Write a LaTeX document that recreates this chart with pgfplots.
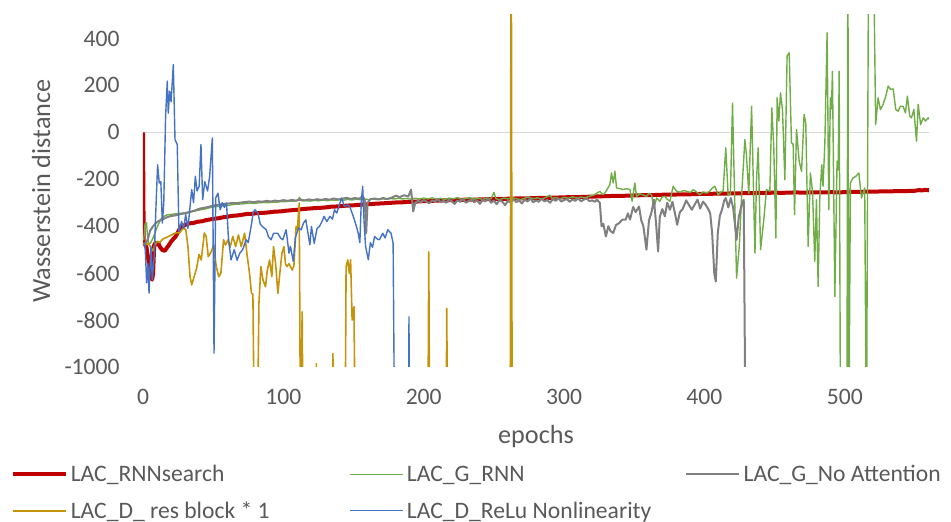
\documentclass[border=0pt]{standalone}
\usepackage{fontspec}
\setmainfont{Carlito}
\usepackage{pgfplots}
\pgfplotsset{compat=1.18}
\definecolor{cRed}{RGB}{192,0,0}
\definecolor{cGreen}{RGB}{112,173,71}
\definecolor{cGray}{RGB}{128,128,128}
\definecolor{cGold}{RGB}{196,148,10}
\definecolor{cBlue}{RGB}{68,114,196}
\definecolor{labelgray}{RGB}{89,89,89}
\definecolor{zerogray}{RGB}{217,217,217}
\begin{document}
\begin{tikzpicture}
\begin{axis}[
  scale only axis, width=393pt, height=176pt,
  xmin=0, xmax=560, ymin=-1000, ymax=500,
  xtick={0,100,200,300,400,500},
  ytick={-1000,-800,-600,-400,-200,0,200,400},
  axis line style={draw=none}, major tick length=0pt,
  /pgf/number format/assume math mode=true,
  /pgf/number format/1000 sep={},
  tick label style={font=\fontsize{11.8}{14}\selectfont, color=labelgray},
  yticklabel style={anchor=east, inner sep=0pt, xshift=-11.5pt},
  xticklabel style={anchor=base, inner sep=0pt, yshift=-19pt},
  xlabel={epochs}, ylabel={Wasserstein distance},
  every axis x label/.style={at={(axis description cs:0.5,0)}, anchor=base,
    yshift=-38.5pt, font=\fontsize{13.1}{15}\selectfont, color=labelgray},
  every axis y label/.style={at={(axis description cs:-0.1183,0.5)}, rotate=90,
    anchor=base, font=\fontsize{13.1}{15}\selectfont, color=labelgray},
  legend columns=3,
  legend style={draw=none, fill=none, at={(axis description cs:0,0)},
    anchor=north west, xshift=-66.2pt, yshift=-49.85pt,
    inner sep=0pt, outer sep=0pt, row sep=10.65pt, column sep=0pt,
    font=\fontsize{11.8}{14}\selectfont, text=labelgray,
    nodes={inner sep=0pt, outer sep=0pt, text height=7.6pt, text depth=0pt},
    /tikz/every odd column/.append style={column sep=1.6pt}},
  legend cell align=left,
  legend image code/.code={\draw[#1] (0pt,0pt) -- (26.5pt,0pt);},
  every axis plot/.append style={line join=round},
]
\addplot[zerogray, line width=0.75pt, forget plot] coordinates {(0,0) (560,0)};

% LAC_RNNsearch
\addplot[cRed, line width=2pt] coordinates {
(0,0) (0.5,-470) (1.5,-478) (2.5,-490) (3.5,-530) (4.5,-575) (5.5,-610) (6.5,-628)
(7.2,-600) (8,-480) (9,-470) (10,-478) (11,-472) (12,-488) (13,-496) (14,-502)
(15.5,-505) (17,-492) (18.5,-480) (20,-466) (21.5,-455) (23,-446) (24.5,-430)
(26,-412) (27.5,-404) (29,-398) (31,-392) (33,-388) (36,-386) (39,-381) (42,-379)
(45,-374) (48,-371) (51,-368) (54,-366) (57,-362) (60,-360) (63,-356) (66,-355)
(70,-352) (74,-348) (78,-347) (82,-344) (86,-343) (90,-341) (94,-338) (98,-337)
(102,-334) (106,-332) (110,-330) (114,-327) (118,-325) (122,-323) (126,-322)
(130,-320) (134,-317) (138,-316) (142,-314) (146,-312) (150,-311) (154,-309)
(158,-307) (162,-306) (166,-304) (170,-303) (175,-301) (180,-299) (185,-298)
(190,-296) (195,-295) (200,-293) (205,-292) (210,-291) (215,-290) (220,-289)
(225,-288) (230,-287) (235,-287) (240,-286) (245,-285) (250,-284) (255,-284)
(260,-283) (265,-282) (270,-281) (275,-281) (280,-280) (285,-279) (290,-279)
(295,-278) (300,-277) (305,-276) (310,-276) (315,-275) (320,-274) (325,-273)
(330,-272) (335,-271) (340,-271) (345,-270) (350,-269) (355,-268) (360,-268)
(365,-267) (370,-266) (375,-266) (380,-265) (385,-264) (390,-264) (395,-263)
(400,-262) (405,-262) (410,-261) (415,-261) (420,-260) (425,-260) (430,-259)
(435,-259) (440,-258) (445,-258) (450,-257) (455,-258) (460,-257) (465,-256)
(470,-257) (475,-256) (480,-256) (485,-256) (490,-255) (495,-256) (500,-255)
(505,-254) (510,-254) (515,-253) (520,-253) (525,-252) (530,-252) (535,-251)
(540,-251) (545,-250) (550,-249) (553,-246) (555,-248) (557,-245) (560,-247)
};
\addlegendentry{\makebox[139.25pt][l]{LAC\_RNNsearch}}

% LAC_G_RNN
\addplot[cGreen, line width=0.7pt] coordinates {
(0.5,-460) (1.5,-390) (2.5,-385) (3.2,-440) (4,-478) (5.5,-470) (7,-452) (8.5,-430)
(10,-405) (11.5,-385) (13,-368) (15,-358) (17,-352) (20,-350) (23,-347) (26,-346)
(29,-343) (32,-341) (35,-338) (38,-334) (41,-330) (44,-327) (47,-322) (50,-318)
(53,-316) (56,-314) (59,-312) (62,-310) (65,-307) (68,-306) (71,-305) (74,-303)
(77,-302) (80,-303) (83,-300) (86,-299) (89,-300) (92,-297) (95,-298) (98,-295)
(101,-296) (104,-293) (107,-294) (110,-290) (111.5,-278) (113,-292) (116,-291)
(119,-293) (122,-290) (125,-292) (128,-289) (131,-291) (134,-288) (137,-290)
(140,-287) (143,-289) (146,-286) (149,-288) (152,-285) (155,-287) (158,-284)
(161,-287) (164,-284) (167,-286) (170,-283) (173,-285) (176,-282) (179,-284)
(182,-281) (185,-284) (188,-282) (191,-285) (194,-281) (197,-284) (200,-280)
(203,-284) (206,-279) (209,-285) (212,-281) (215,-287) (218,-280) (221,-284)
(224,-278) (227,-286) (230,-282) (233,-279) (236,-285) (239,-281) (242,-286)
(245,-280) (248,-283) (250,-256) (251.5,-283) (254,-287) (257,-280) (260,-284)
(263,-279) (266,-283) (269,-287) (272,-280) (275,-276) (278,-283) (281,-279)
(284,-285) (287,-277) (290,-268) (291.5,-282) (294,-278) (297,-284) (300,-277)
(303,-281) (306,-275) (309,-280) (312,-276) (315,-279) (318,-272) (321,-268)
(323.4,-259) (325.5,-252) (327.9,-266) (330,-250) (332.6,-223) (333.8,-173)
(335,-216) (336.2,-166) (337.4,-237) (340,-240) (342.1,-244) (344.5,-240)
(346.9,-244) (348.5,-294) (350.4,-216) (351.6,-273) (354,-262) (356,-266)
(358.7,-273) (360.5,-260) (362.3,-266) (364,-323) (365.9,-280) (368.2,-294)
(370,-275) (371.8,-273) (373.5,-285) (375.4,-294) (377.7,-230) (380.1,-251)
(383,-255) (385,-248) (387.2,-251) (390,-256) (392,-244) (394.5,-255) (396.7,-266)
(399,-254) (401.4,-259) (403.5,-252) (405.7,-237) (407.4,-230) (409.8,-266)
(411.5,-255) (413.3,-251) (415.2,-66) (416.9,-270) (418.5,-262) (420,125)
(421.5,-270) (422.9,-621) (424.9,-480) (426.5,-270) (428.8,-31) (429.9,-95)
(431.6,-260) (433.6,111) (436,-515) (437.1,-200) (438.3,-66) (440,-500)
(442.3,-372) (444.2,-244) (446.6,-251) (448,104) (449.4,-60) (450.9,-451)
(451.8,147) (453,48) (454.2,168) (455.6,97) (457.3,-202) (458.9,325) (460.4,339)
(462,-45) (463.2,-50) (464.2,-351) (465.6,12) (467.5,-123) (469.2,-166) (471,76)
(472.2,40) (473.9,-486) (475.5,-173) (477,-251) (478.6,-550) (479.8,-287)
(481,-657) (482.2,-280) (483.6,-138) (484.5,-230) (485.8,-45) (487.4,424)
(488.6,-330) (489.7,147) (490.5,100) (491.2,260) (492.9,-700) (494.5,-123)
(495.3,-160) (496,260) (497,-1400) (501.5,-1400) (502.2,900) (502.8,-1400)
(504,-216) (505.9,-194) (507.8,-188) (510,-173) (511.9,-280) (514.2,-237)
(515.4,-1400) (517,900) (520.2,900) (522,33) (523.7,147) (525.4,97) (527.3,119)
(529.2,154) (530.9,197) (532.6,183) (534.5,185) (536.3,97) (538,90) (539.6,111)
(541.5,111) (543.2,83) (544.6,154) (546.3,69) (547.5,62) (549.2,97) (551.1,-38)
(552.3,119) (554,33) (555.9,62) (557.5,48) (559.4,62) (560,55)
};
\addlegendentry{\makebox[139.25pt][l]{LAC\_G\_RNN}}

% LAC_G_No Attention
\addplot[cGray, line width=1pt] coordinates {
(0.5,-480) (2,-470) (3.5,-455) (5,-420) (7,-402) (9,-388) (11,-378) (13,-373)
(15,-368) (17,-362) (19,-358) (22,-355) (25,-351) (28,-347) (31,-344) (34,-338)
(37,-333) (40,-326) (43,-322) (46,-319) (49,-314) (52,-310) (55,-307) (58,-305)
(61,-303) (64,-301) (67,-302) (70,-299) (73,-297) (76,-295) (79,-298) (82,-294)
(85,-296) (88,-292) (91,-295) (94,-291) (97,-293) (100,-289) (103,-292) (106,-288)
(109,-291) (112,-287) (115,-290) (118,-286) (121,-289) (124,-285) (127,-288)
(130,-284) (133,-287) (136,-282) (139,-286) (142,-283) (145,-279) (148,-284)
(151,-280) (154,-283) (156.6,-272) (158,-290) (159,-430) (160,-300) (162,-285)
(165,-282) (168,-286) (171,-280) (174,-284) (177,-279) (180,-270) (183,-276)
(186,-268) (189,-274) (191,-244) (192.5,-337) (194,-300) (196,-292) (198,-298)
(200,-288) (202,-296) (204,-302) (206,-290) (208,-295) (210,-285) (212,-298)
(214,-292) (216,-300) (218,-288) (220,-294) (222,-305) (224,-290) (226,-296)
(228,-284) (230,-300) (232,-293) (234,-286) (236,-298) (238,-290) (240,-305)
(242,-288) (244,-294) (246,-282) (248,-300) (250,-291) (252,-306) (254,-289)
(256,-296) (258,-310) (260,-292) (262,-300) (264,-286) (266,-297) (268,-291)
(270,-303) (272,-287) (274,-295) (276,-280) (278,-298) (280,-290) (282,-296)
(284,-283) (286,-294) (288,-288) (290,-300) (292,-285) (294,-292) (296,-281)
(298,-295) (300,-289) (302,-284) (304,-296) (306,-286) (308,-292) (310,-280)
(312,-294) (314,-287) (316,-282) (318,-293) (320,-290) (322,-296) (323.4,-287)
(325.5,-301) (326.7,-401) (328,-390) (329.8,-444) (331.5,-400) (333,-420)
(335,-429) (337,-395) (339.2,-387) (341.5,-372) (343.9,-372) (345.5,-345)
(347,-372) (349.2,-318) (351,-340) (353.4,-316) (355,-375) (356.5,-400)
(358.7,-500) (360.5,-375) (362.3,-340) (364,-287) (365.5,-385) (367,-508)
(368.2,-360) (370,-327) (371.8,-358) (373.5,-300) (375.4,-330) (377.2,-296)
(379,-345) (380.6,-394) (382.5,-340) (384.5,-327) (387,-290) (389,-310) (391,-330)
(393,-308) (395.1,-287) (397,-325) (399,-295) (401,-310) (403,-330) (404.1,-345)
(405.5,-430) (407,-600) (408.1,-636) (409.5,-430) (411,-355) (412.5,-330)
(414.1,-290) (415.2,-280) (417,-320) (418.8,-280) (420.5,-323) (422.9,-458)
(424.5,-360) (426.5,-310) (428,-287) (429.5,-1500)
};
\addlegendentry{\makebox[139.25pt][l]{LAC\_G\_No Attention}}

% LAC_D_ res block * 1
\addplot[cGold, line width=0.8pt] coordinates {
(0.5,-470) (2,-478) (3.8,-471) (5.5,-490) (7,-505) (8.5,-480) (10.2,-464) (12,-470)
(14,-455) (16,-450) (18,-444) (20,-438) (22,-432) (24,-428) (26,-429) (28.7,-408)
(30.5,-415) (32,-486) (33.5,-614) (34.7,-650) (36.2,-620) (38.2,-579) (39.9,-520)
(41.5,-544) (43.7,-429) (45,-444) (46.5,-530) (48.5,-510) (50.3,-480) (52.2,-572)
(54,-615) (55.5,-600) (57.4,-458) (58.8,-480) (60.5,-458) (62,-490) (64,-444)
(66,-487) (68,-437) (70,-487) (72.4,-430) (74,-515) (75.9,-601) (77.3,-686)
(78.3,-690) (79.3,-1300) (81.5,-1300) (82.6,-728) (84,-572) (85.5,-630)
(87.3,-658) (88.5,-590) (90.2,-544) (91.8,-615) (93,-487) (94.5,-560) (96.1,-686)
(97.5,-600) (99,-515) (100.4,-487) (101.5,-560) (102.5,-572) (104,-560)
(106.3,-587) (107.5,-570) (109.1,-401) (110,-415) (111.3,-301) (112.2,-1300)
(113.4,-765) (114,-1300) (123,-1300) (123.5,-986) (124,-1300) (135,-1300)
(135.3,-943) (135.8,-1300) (144,-1300) (144.7,-572) (145.9,-544) (147,-601)
(147.9,-543) (149,-800) (150.3,-743) (151.2,-1300) (203,-1300) (203.6,-510)
(204.2,-1300) (216,-1300) (216.4,-750) (217,-1300) (261.6,-1300) (262.3,1200)
(263,-1300)
};
\addlegendentry{\makebox[139.25pt][l]{LAC\_D\_ res block * 1}}

% LAC_D_ReLu Nonlinearity
\addplot[cBlue, line width=0.7pt] coordinates {
(0.5,-470) (1.4,-471) (2.6,-641) (3.5,-560) (4.3,-685) (5.7,-486) (6.6,-629)
(8,-528) (9,-358) (10.4,-138) (11.6,-216) (12.7,-210) (13.8,-387) (14.8,-300)
(16.1,68) (17.3,218) (18,82) (19,175) (20,130) (21.6,289) (22.8,-31) (24.4,-52)
(25.6,-422) (27.5,-380) (29,-410) (30.4,-350) (32,-410) (34.7,-244) (36,-300)
(37.3,-187) (38.5,-250) (40,-230) (41.3,-52) (42.5,-287) (44,-210) (46,-250)
(47.5,-187) (49.4,-24) (50.6,-941) (51.8,-280) (53.4,-259) (55,-330) (56.5,-300)
(58,-320) (59.5,-301) (60.8,-444) (62.7,-544) (65,-500) (67,-545) (69,-515)
(71,-500) (73.5,-458) (75,-470) (77.4,-387) (78.5,-340) (79.8,-330) (81.9,-344)
(83.5,-390) (85,-401) (87.8,-415) (89.3,-444) (91.3,-458) (93,-430) (96,-430)
(98,-450) (99.6,-458) (102,-415) (104,-515) (105,-486) (107.1,-550) (108.5,-450)
(110.8,-408) (112.7,-415) (114.3,-387) (116,-373) (118.9,-479) (120,-401)
(122,-473) (124,-410) (125.7,-401) (127.5,-380) (129,-358) (131,-380) (133.2,-358)
(135,-370) (136.4,-330) (138,-344) (141.5,-280) (143.5,-316) (145.5,-310)
(147.3,-316) (149.8,-358) (152,-400) (153.3,-429) (154.5,-470) (155.5,-300)
(156.5,-230) (157.5,-380) (158.6,-486) (160.5,-543) (162,-470) (163.5,-490)
(165,-444) (167,-455) (168.4,-458) (170,-440) (170.8,-430) (172.5,-450)
(174.4,-415) (176.7,-430) (178.2,-472) (179.5,-1500) (189,-1500) (189.5,-786)
(190,-1500)
};
\addlegendentry{\makebox[139.25pt][l]{LAC\_D\_ReLu Nonlinearity}}

\coordinate (bbSW) at (rel axis cs:0,0);
\coordinate (bbNE) at (rel axis cs:1,1);
\end{axis}
\pgfresetboundingbox
\path ([shift={(-71.5pt,-77.5pt)}]bbSW) rectangle ([shift={(11pt,7.5pt)}]bbNE);
\end{tikzpicture}
\end{document}
